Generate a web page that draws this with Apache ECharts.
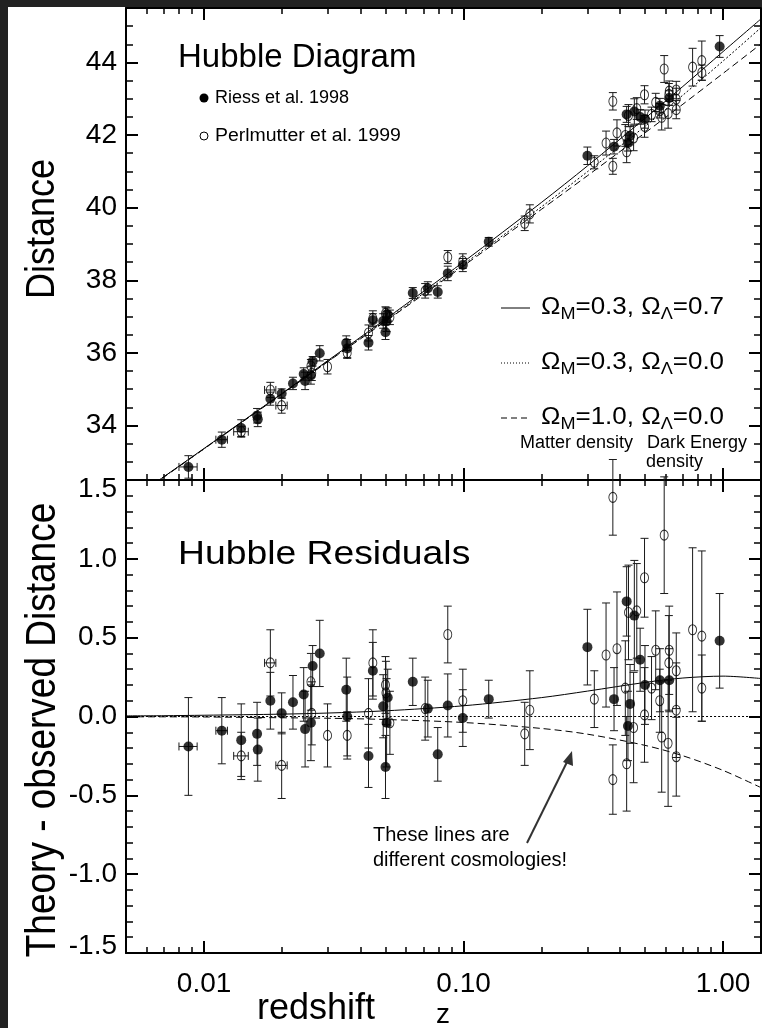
<!DOCTYPE html>
<html>
<head>
<meta charset="utf-8">
<script src="https://cdn.jsdelivr.net/npm/echarts@6/dist/echarts.min.js"></script>
<style>
  html, body { margin: 0; padding: 0; background: #fff; }
  #chart { width: 762px; height: 1028px; }
</style>
</head>
<body>
<div id="chart"></div>
<script>
// ---- Riess et al. 1998 (filled symbols) ----
const riessZ     = [0.0087, 0.0117, 0.0139, 0.0160, 0.0161, 0.0180, 0.0199, 0.0220, 0.0242, 0.0245, 0.0258, 0.0262, 0.0279, 0.0353, 0.0356, 0.0430, 0.0447, 0.0490, 0.0500, 0.0505, 0.0510, 0.0637, 0.0728, 0.0795, 0.0869, 0.0993, 0.125, 0.300, 0.380, 0.425, 0.438, 0.430, 0.455, 0.479, 0.500, 0.571, 0.620, 0.970];
const riessMu    = [32.86, 33.61, 33.93, 34.27, 34.17, 34.74, 34.88, 35.16, 35.42, 35.23, 35.38, 35.77, 35.99, 36.27, 36.12, 36.28, 36.90, 36.88, 36.57, 36.87, 37.06, 37.65, 37.78, 37.68, 38.19, 38.42, 39.06, 41.43, 41.68, 42.57, 41.98, 41.78, 42.65, 42.50, 42.44, 42.81, 43.02, 44.44];
const riessResid = [-0.19, -0.09, -0.15, -0.11, -0.21, 0.10, 0.02, 0.09, 0.14, -0.08, -0.04, 0.32, 0.40, 0.17, 0.00, -0.25, 0.29, 0.065, -0.32, -0.04, 0.12, 0.22, 0.05, -0.24, 0.07, -0.01, 0.11, 0.44, 0.11, 0.73, 0.08, -0.06, 0.64, 0.36, 0.20, 0.23, 0.23, 0.48];
const riessErr   = [0.31, 0.21, 0.23, 0.20, 0.20, 0.18, 0.13, 0.17, 0.17, 0.24, 0.24, 0.13, 0.21, 0.20, 0.25, 0.20, 0.18, 0.20, 0.20, 0.28, 0.18, 0.15, 0.18, 0.17, 0.20, 0.18, 0.12, 0.24, 0.20, 0.22, 0.25, 0.22, 0.35, 0.20, 0.25, 0.20, 0.20, 0.30];
const riessZErr  = [0.0007, 0.0006, 0, 0, 0, 0, 0, 0, 0, 0, 0, 0, 0, 0, 0, 0, 0, 0, 0, 0, 0, 0, 0, 0, 0, 0, 0, 0, 0, 0, 0, 0, 0, 0, 0, 0, 0, 0];

// ---- Perlmutter et al. 1999 (open symbols) ----
const perlZ     = [0.0139, 0.0180, 0.0199, 0.0258, 0.0260, 0.0299, 0.0356, 0.0430, 0.0447, 0.0500, 0.0502, 0.0520, 0.0711, 0.0869, 0.0993, 0.172, 0.180, 0.319, 0.354, 0.376, 0.376, 0.390, 0.420, 0.425, 0.432, 0.452, 0.465, 0.498, 0.498, 0.530, 0.550, 0.570, 0.580, 0.593, 0.614, 0.618, 0.620, 0.660, 0.660, 0.660, 0.763, 0.828, 0.828];
const perlMu    = [33.83, 34.98, 34.55, 35.64, 35.44, 35.62, 36.00, 36.55, 36.95, 37.09, 37.04, 36.98, 37.71, 38.64, 38.53, 39.57, 39.83, 41.25, 41.78, 42.93, 41.14, 42.06, 41.99, 41.54, 42.54, 41.92, 42.73, 43.11, 42.24, 42.57, 42.90, 42.67, 42.49, 43.82, 42.59, 43.12, 43.21, 43.24, 42.99, 42.70, 43.87, 44.05, 43.72];
const perlResid = [-0.25, 0.34, -0.31, 0.22, 0.02, -0.12, -0.12, 0.02, 0.34, 0.20, 0.15, -0.04, 0.05, 0.52, 0.10, -0.11, 0.04, 0.11, 0.39, 1.39, -0.40, 0.43, 0.18, -0.30, 0.66, -0.07, 0.67, 0.88, 0.01, 0.18, 0.42, 0.10, -0.13, 1.15, -0.17, 0.34, 0.42, 0.29, 0.04, -0.255, 0.55, 0.51, 0.18];
const perlErr   = [0.15, 0.21, 0.21, 0.18, 0.20, 0.20, 0.15, 0.22, 0.21, 0.18, 0.20, 0.20, 0.20, 0.18, 0.20, 0.20, 0.25, 0.18, 0.33, 0.24, 0.22, 0.36, 0.30, 0.30, 0.30, 0.35, 0.30, 0.25, 0.30, 0.20, 0.25, 0.20, 0.35, 0.37, 0.40, 0.30, 0.28, 0.24, 0.30, 0.25, 0.52, 0.54, 0.21];
const perlZErr  = [0.0009, 0.0009, 0.0010, 0, 0, 0, 0, 0, 0, 0, 0, 0, 0, 0, 0, 0, 0, 0, 0, 0, 0, 0, 0, 0, 0, 0, 0, 0, 0, 0, 0, 0, 0, 0, 0, 0, 0, 0, 0, 0, 0, 0, 0];

// ---- Cosmological model curves ----
const modelZ      = [0.005, 0.007, 0.01, 0.02, 0.03, 0.05, 0.1, 0.2, 0.3, 0.5, 0.7, 1.0, 1.4];
const muLambda    = [31.86, 32.59, 33.37, 34.89, 35.79, 36.93, 38.51, 40.15, 41.15, 42.46, 43.34, 44.30, 45.20];
const muOpen      = [31.85, 32.59, 33.36, 34.88, 35.77, 36.89, 38.44, 40.03, 40.99, 42.24, 43.10, 44.04, 44.96];
const muEdS       = [31.85, 32.58, 33.36, 34.87, 35.76, 36.87, 38.40, 39.96, 40.88, 42.06, 42.85, 43.70, 44.51];
const residLambda = [0.004, 0.005, 0.008, 0.015, 0.022, 0.036, 0.068, 0.120, 0.161, 0.216, 0.244, 0.256, 0.241];
const residOpen   = [0, 0, 0, 0, 0, 0, 0, 0, 0, 0, 0, 0, 0];
const residEdS    = [-0.002, -0.002, -0.003, -0.008, -0.011, -0.019, -0.038, -0.076, -0.112, -0.183, -0.249, -0.342, -0.451];

// ---- Axis ticks ----
const xMajor = [0.01, 0.1, 1];
const xMinor = [0.006, 0.007, 0.008, 0.009, 0.02, 0.03, 0.04, 0.05, 0.06, 0.07, 0.08, 0.09, 0.2, 0.3, 0.4, 0.5, 0.6, 0.7, 0.8, 0.9];
const muMajor = [34, 36, 38, 40, 42, 44];
const muMinor = [33, 33.5, 34.5, 35, 35.5, 36.5, 37, 37.5, 38.5, 39, 39.5, 40.5, 41, 41.5, 42.5, 43, 43.5, 44.5, 45];
const resMajor = [-1.5, -1.0, -0.5, 0.0, 0.5, 1.0, 1.5];
const resMinor = [-1.4, -1.3, -1.2, -1.1, -0.9, -0.8, -0.7, -0.6, -0.4, -0.3, -0.2, -0.1, 0.1, 0.2, 0.3, 0.4, 0.6, 0.7, 0.8, 0.9, 1.1, 1.2, 1.3, 1.4];

const FONT = '"Liberation Sans", Arial, Helvetica, sans-serif';
const INK = '#000';
const WIDE = 1.13; // horizontal stretch of the lettering

function zip(xs, ys, es, zes) {
  return xs.map((x, i) => [x, ys[i], es ? es[i] : 0, zes ? zes[i] : 0]);
}
function pairs(xs, ys) { return xs.map((x, i) => [x, ys[i]]); }

function xAxisSet(grid, withLabels) {
  const base = {
    gridIndex: grid, type: 'log', logBase: 10, min: 0.005, max: 1.4,
    splitLine: { show: false }, minorTick: { show: false }, minorSplitLine: { show: false }
  };
  const major = (pos, labels) => Object.assign({}, base, {
    position: pos,
    axisLine: { show: true, onZero: false, lineStyle: { color: INK, width: 2 } },
    axisTick: { show: true, inside: true, length: 12, customValues: xMajor, lineStyle: { color: INK, width: 2 } },
    axisLabel: {
      show: labels, customValues: xMajor, margin: 17, color: INK, fontFamily: FONT, fontSize: 28,
      formatter: v => Number(v).toFixed(2)
    }
  });
  const minor = pos => Object.assign({}, base, {
    position: pos,
    axisLine: { show: false, onZero: false },
    axisTick: { show: true, inside: true, length: 6, customValues: xMinor, lineStyle: { color: INK, width: 1.5 } },
    axisLabel: { show: false }
  });
  return [major('bottom', withLabels), minor('bottom'), major('top', false), minor('top')];
}

function yAxisSet(grid, min, max, majors, minors, labelFmt) {
  const base = { gridIndex: grid, type: 'value', min: min, max: max, splitLine: { show: false } };
  const major = (pos, labels) => Object.assign({}, base, {
    position: pos,
    axisLine: { show: true, onZero: false, lineStyle: { color: INK, width: 2 } },
    axisTick: { show: true, inside: true, length: 12, customValues: majors, lineStyle: { color: INK, width: 2 } },
    axisLabel: {
      show: labels, customValues: majors, margin: 9, color: INK, fontFamily: FONT, fontSize: 28,
      formatter: labelFmt,
      rich: {
        lo: { fontFamily: FONT, fontSize: 28, color: INK, padding: [18, 0, 0, 0] },
        hi: { fontFamily: FONT, fontSize: 28, color: INK, padding: [0, 0, 14, 0] }
      }
    }
  });
  const minor = pos => Object.assign({}, base, {
    position: pos,
    axisLine: { show: false, onZero: false },
    axisTick: { show: true, inside: true, length: 7, customValues: minors, lineStyle: { color: INK, width: 1.5 } },
    axisLabel: { show: false }
  });
  return [major('left', true), minor('left'), major('right', false), minor('right')];
}

// Vertical (and optional horizontal) error bars with end caps
function errorBars(params, api) {
  const z = api.value(0), v = api.value(1), e = api.value(2), ze = api.value(3);
  const top = api.coord([z, v + e]);
  const bot = api.coord([z, v - e]);
  const cap = 4;
  const st = { stroke: '#1a1a1a', lineWidth: 1 };
  const kids = [
    { type: 'line', shape: { x1: top[0], y1: top[1], x2: bot[0], y2: bot[1] }, style: st },
    { type: 'line', shape: { x1: top[0] - cap, y1: top[1], x2: top[0] + cap, y2: top[1] }, style: st },
    { type: 'line', shape: { x1: bot[0] - cap, y1: bot[1], x2: bot[0] + cap, y2: bot[1] }, style: st }
  ];
  if (ze > 0) {
    const l = api.coord([z - ze, v]);
    const r = api.coord([z + ze, v]);
    kids.push(
      { type: 'line', shape: { x1: l[0], y1: l[1], x2: r[0], y2: r[1] }, style: st },
      { type: 'line', shape: { x1: l[0], y1: l[1] - cap, x2: l[0], y2: l[1] + cap }, style: st },
      { type: 'line', shape: { x1: r[0], y1: r[1] - cap, x2: r[0], y2: r[1] + cap }, style: st }
    );
  }
  return { type: 'group', children: kids };
}

function panelSeries(xi, yi, rVals, pVals, lamb, open, eds) {
  const line = (data, type) => ({
    type: 'line', xAxisIndex: xi, yAxisIndex: yi, data: pairs(modelZ, data),
    smooth: 0.3, showSymbol: false, symbol: 'none', silent: true, z: 2,
    lineStyle: { color: INK, width: 1, type: type }
  });
  return [
    line(lamb, 'solid'),
    line(open, [2, 2]),
    line(eds, [7, 4]),
    { type: 'custom', xAxisIndex: xi, yAxisIndex: yi, renderItem: errorBars, silent: true, z: 3,
      encode: { x: 0, y: 1 }, data: zip(riessZ, rVals, riessErr, riessZErr) },
    { type: 'custom', xAxisIndex: xi, yAxisIndex: yi, renderItem: errorBars, silent: true, z: 3,
      encode: { x: 0, y: 1 }, data: zip(perlZ, pVals, perlErr, perlZErr) },
    { type: 'scatter', xAxisIndex: xi, yAxisIndex: yi, symbol: 'circle', symbolSize: [8, 10], silent: true, z: 4,
      itemStyle: { color: 'transparent', borderColor: INK, borderWidth: 1 },
      data: pairs(perlZ, pVals) },
    { type: 'scatter', xAxisIndex: xi, yAxisIndex: yi, symbol: 'circle', symbolSize: 10, silent: true, z: 5,
      itemStyle: { color: INK },
      data: pairs(riessZ, rVals) }
  ];
}

const subRich = {
  a: { fontFamily: FONT, fontSize: 23, fill: INK, lineHeight: 30 },
  s: { fontFamily: FONT, fontSize: 16, fill: INK, lineHeight: 14, verticalAlign: 'bottom' }
};
function omegaText(y, m, l) {
  return {
    type: 'text', x: 541, y: y, scaleX: WIDE,
    style: {
      text: '{a|\u03A9}{s|M}{a|=' + m + ', \u03A9}{s|\u039B}{a|=' + l + '}',
      rich: subRich, verticalAlign: 'middle', align: 'left'
    }
  };
}
function plainText(x, y, txt, size, extra, props) {
  return Object.assign({
    type: 'text', x: x, y: y,
    style: Object.assign({ text: txt, fontFamily: FONT, fontSize: size, fill: INK, align: 'left', verticalAlign: 'middle' }, extra || {})
  }, props || {});
}
function vText(x, y, txt, size) {
  return plainText(x, y, txt, size, { align: 'center' }, { rotation: Math.PI / 2, scaleY: WIDE });
}

const chart = echarts.init(document.getElementById('chart'), null, { renderer: 'canvas' });

chart.setOption({
  animation: false,
  backgroundColor: '#fff',
  grid: [
    { left: 126, top: 8, width: 635, height: 472, outerBoundsMode: 'none', containLabel: false },
    { left: 126, top: 480, width: 635, height: 473, outerBoundsMode: 'none', containLabel: false }
  ],
  xAxis: [].concat(xAxisSet(0, false), xAxisSet(1, true)),
  yAxis: [].concat(
    yAxisSet(0, 32.5, 45.5, muMajor, muMinor, v => String(Math.round(v))),
    yAxisSet(1, -1.5, 1.5, resMajor, resMinor, v => {
      const s = Number(v).toFixed(1);
      if (v >= 1.49) return '{lo|' + s + '}';
      if (v <= -1.49) return '{hi|' + s + '}';
      return s;
    })
  ),
  series: [].concat(
    panelSeries(0, 0, riessMu, perlMu, muLambda, muOpen, muEdS),
    panelSeries(4, 4, riessResid, perlResid, residLambda, residOpen, residEdS)
  ),
  graphic: [
    // dark frame strips along the top and left edges
    { type: 'rect', shape: { x: 0, y: 0, width: 762, height: 7 }, style: { fill: '#222' }, z: 100 },
    { type: 'rect', shape: { x: 0, y: 0, width: 8, height: 1028 }, style: { fill: '#222' }, z: 100 },

    // axis titles
    vText(43, 229, 'Distance', 36),
    vText(43, 730, 'Theory - observed Distance', 37),
    plainText(257, 1009, 'redshift', 36),
    plainText(436, 1015, 'z', 28),

    // panel titles
    plainText(178, 58, 'Hubble Diagram', 33),
    plainText(178, 555, 'Hubble Residuals', 33, null, { scaleX: WIDE }),

    // sample legend
    { type: 'circle', shape: { cx: 204, cy: 98, r: 4.5 }, style: { fill: INK } },
    plainText(215, 98, 'Riess et al. 1998', 18),
    { type: 'circle', shape: { cx: 204, cy: 136, r: 4 }, style: { fill: 'none', stroke: INK, lineWidth: 1 } },
    plainText(215, 136, 'Perlmutter et al. 1999', 18, null, { scaleX: 1.08 }),

    // cosmology legend
    { type: 'line', shape: { x1: 501, y1: 308, x2: 530, y2: 308 }, style: { stroke: INK, lineWidth: 1 } },
    { type: 'line', shape: { x1: 501, y1: 363, x2: 530, y2: 363 }, style: { stroke: INK, lineWidth: 1, lineDash: [1, 2] } },
    { type: 'line', shape: { x1: 501, y1: 418, x2: 530, y2: 418 }, style: { stroke: INK, lineWidth: 1, lineDash: [6, 4] } },
    omegaText(308, '0.3', '0.7'),
    omegaText(363, '0.3', '0.0'),
    omegaText(418, '1.0', '0.0'),
    plainText(520, 443, 'Matter density', 18),
    plainText(647, 443, 'Dark Energy', 18),
    plainText(646, 462, 'density', 18),

    // annotation
    plainText(373, 835, 'These lines are', 20),
    plainText(373, 860, 'different cosmologies!', 20),
    { type: 'line', shape: { x1: 527, y1: 843, x2: 569, y2: 758 }, style: { stroke: '#333', lineWidth: 2 } },
    { type: 'polygon', shape: { points: [[572, 751], [563, 762], [573, 766]] }, style: { fill: '#333' } }
  ]
});
</script>
</body>
</html>
